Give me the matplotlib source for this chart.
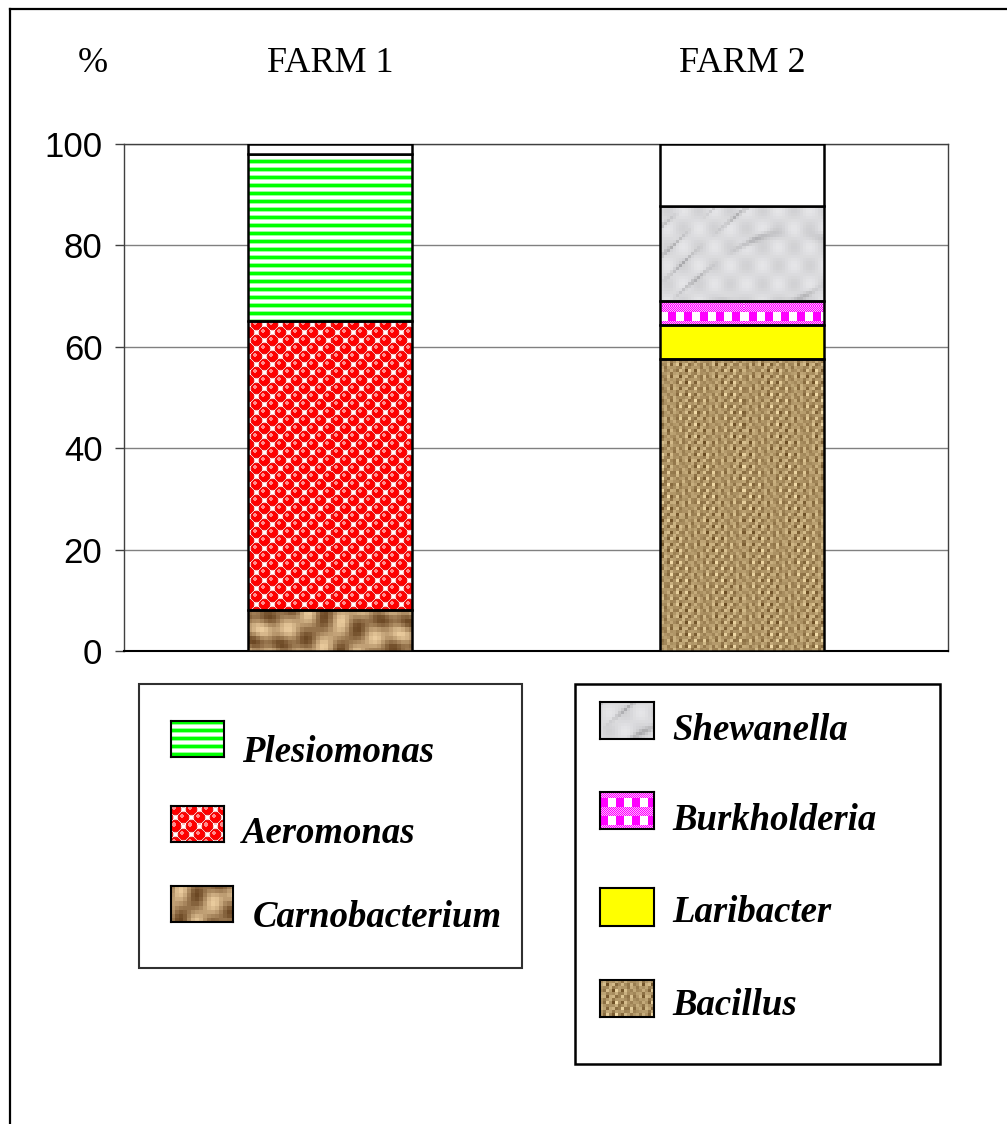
import matplotlib.pyplot as plt
import numpy as np
from matplotlib.patches import Rectangle
from matplotlib.lines import Line2D

# percentage composition of isolated genera, stacked from the bottom up
farms = ["FARM 1", "FARM 2"]
farm1_genera = ["Carnobacterium", "Aeromonas", "Plesiomonas", None]
farm1_pct = [8.1, 57.0, 32.9, 2.0]
farm2_genera = ["Bacillus", "Laribacter", "Burkholderia", "Shewanella", None]
farm2_pct = [57.5, 6.8, 4.8, 18.7, 12.2]
yticks = [0, 20, 40, 60, 80, 100]

W, H = 1007, 1124
SERIF = "Liberation Serif"
SANS = "Liberation Sans"


def fx(x):
    return x / W


def fy(y):
    return 1 - y / H


def texture(name, h, w):
    """RGB fill pattern (h x w pixels) for one genus."""
    yy, xx = np.mgrid[0:h, 0:w].astype(float)
    img = np.ones((h, w, 3))
    if name == "Plesiomonas":
        ph = yy % 8
        img[ph < 3] = (0.0, 1.0, 0.0)
        img[(ph == 3) | (ph == 7)] = (0.6, 1.0, 0.6)
    elif name == "Aeromonas":
        best = np.full((h, w), 99.0)
        dxb = np.zeros((h, w))
        dyb = np.zeros((h, w))
        ci = np.floor(xx / 8)
        cj = np.floor(yy / 8)
        for di in (-1, 0, 1):
            for dj in (-1, 0, 1):
                i = ci + di
                j = cj + dj
                cx = 8 * i + 4
                cy = 8 * j + 4
                d = np.hypot(xx - cx, yy - cy)
                d[(i + j) % 2 != 0] = 99.0
                sel = d < best
                best[sel] = d[sel]
                dxb[sel] = (xx - cx)[sel]
                dyb[sel] = (yy - cy)[sel]
        ball = best < 5.5
        img[ball] = (1.0, 0.0, 0.0)
        img[ball & (best > 4.6)] = (0.9, 0.1, 0.1)
        hl = np.hypot(dxb + 1.5, dyb + 1.5) < 1.6
        img[ball & hl] = (1.0, 0.55, 0.55)
        img[~ball & (best < 6.3)] = (1.0, 0.75, 0.75)
    elif name == "Carnobacterium":
        xb = (xx // 4) * 4
        yb = (yy // 4) * 4
        v = np.sin(0.07 * xb + 0.18 * yb + 2.5 * np.sin(0.04 * xb - 0.03 * yb)) \
            + 0.5 * np.sin(0.23 * xb - 0.10 * yb)
        t = np.clip((v + 1.5) / 3.0, 0, 1)[..., None]
        dark = np.array([0.42, 0.28, 0.14])
        light = np.array([0.92, 0.80, 0.62])
        img = dark + (light - dark) * t
    elif name == "Shewanella":
        xb = (xx // 3) * 3
        yb = (yy // 3) * 3
        v = np.sin(0.05 * xb + 0.08 * yb + 2.0 * np.sin(0.03 * xb + 0.02 * yb))
        vein = np.exp(-(v ** 2) / 0.05) * (0.5 + 0.5 * np.sin(0.07 * xb - 0.05 * yb))
        g = 0.86 + 0.04 * np.sin(0.2 * xb) * np.sin(0.17 * yb) - 0.16 * vein
        img = np.stack([g, g, g + 0.01], axis=-1)
    elif name == "Burkholderia":
        ph = yy % 18
        fine = (xx + yy) % 2 == 0
        band = (ph >= 6) & (ph < 15)
        img[~band & fine] = (1.0, 0.0, 1.0)
        img[~band & ~fine] = (1.0, 0.7, 1.0)
        img[band & ((xx % 16) < 8)] = (1.0, 0.0, 1.0)
    elif name == "Laribacter":
        img[:] = (1.0, 1.0, 0.0)
    elif name == "Bacillus":
        xb = (xx // 3) * 3
        yb = (yy // 3) * 3
        t = 0.55 + 0.28 * np.sin(2 * np.pi * xb / 9) * np.sin(2 * np.pi * yb / 12) \
            + 0.22 * np.sin(0.7 * xb + 0.3 * yb) * np.cos(0.25 * yb - 0.15 * xb)
        t = np.clip(t, 0, 1)[..., None]
        dark = np.array([0.36, 0.24, 0.08])
        light = np.array([0.95, 0.86, 0.66])
        img = dark + (light - dark) * t
    return np.clip(img, 0, 1)


fig = plt.figure(figsize=(W / 100, H / 100), dpi=100)

# plot area
ax_l, ax_r, ax_t, ax_b = 124, 948, 144, 651
ax = fig.add_axes([fx(ax_l), fy(ax_b), fx(ax_r - ax_l), (ax_b - ax_t) / H])
xlim = (-0.5, 1.5)
ylim = (0, 100)

ax.yaxis.grid(True, color="#808080", lw=1.0)
ax.set_axisbelow(True)
for s in ("left", "top", "right"):
    ax.spines[s].set_color("#404040")
    ax.spines[s].set_linewidth(1.0)
ax.spines["bottom"].set_color("black")
ax.spines["bottom"].set_linewidth(1.5)
ax.set_xticks([])
ax.set_yticks(yticks)
ax.set_yticklabels([str(t) for t in yticks], fontsize=25, family=SANS)
ax.tick_params(axis="y", length=6.5, width=1.0, pad=9, color="#404040")

full_h, full_w = ax_b - ax_t, ax_r - ax_l
bar_w = 0.40
for i, (genera, pct) in enumerate([(farm1_genera, farm1_pct), (farm2_genera, farm2_pct)]):
    bottom = 0.0
    for g, v in zip(genera, pct):
        face = "white" if g is None else "none"
        patch = ax.bar(i, v, width=bar_w, bottom=bottom, color=face,
                       edgecolor="black", linewidth=1.8, zorder=3)[0]
        if g is not None:
            im = ax.imshow(texture(g, full_h, full_w), extent=(*xlim, *ylim),
                           origin="upper", aspect="auto", interpolation="nearest", zorder=2.9)
            im.set_clip_path(patch)
        bottom += v

ax.set_xlim(*xlim)
ax.set_ylim(*ylim)

# headings
fig.text(fx(93), fy(72), "%", ha="center", va="baseline", fontsize=26, family=SERIF)
for i, f in enumerate(farms):
    fig.text(fx(330 + 412 * i), fy(72), f, ha="center", va="baseline", fontsize=26, family=SERIF)

# legend boxes
fig.add_artist(Rectangle((fx(139), fy(968)), fx(522 - 139), (968 - 684) / H,
                         transform=fig.transFigure, fill=False, ec="#303030", lw=1.5))
fig.add_artist(Rectangle((fx(575), fy(1064)), fx(940 - 575), (1064 - 684) / H,
                         transform=fig.transFigure, fill=False, ec="black", lw=1.8))

left_entries = [
    ("Plesiomonas", (171, 224, 721, 757), (242, 762)),
    ("Aeromonas", (171, 224, 806, 842), (242, 843)),
    ("Carnobacterium", (171, 233, 886, 922), (253, 927)),
]
right_entries = [
    ("Shewanella", (600, 654, 702, 739), (672, 740)),
    ("Burkholderia", (600, 654, 792, 829), (672, 830)),
    ("Laribacter", (600, 654, 888, 926), (672, 922)),
    ("Bacillus", (600, 654, 980, 1017), (672, 1015)),
]
for name, (x0, x1, y0, y1), (tx, ty) in left_entries + right_entries:
    sw = fig.add_axes([fx(x0), fy(y1), fx(x1 - x0), (y1 - y0) / H])
    sw.imshow(texture(name, y1 - y0, x1 - x0), aspect="auto", interpolation="nearest")
    sw.set_xticks([])
    sw.set_yticks([])
    for s in sw.spines.values():
        s.set_linewidth(1.5)
        s.set_color("black")
    fig.text(fx(tx), fy(ty), name, ha="left", va="baseline", fontsize=26.5,
             family=SERIF, style="italic", weight="bold")

# outer frame (top and left edges)
fig.add_artist(Line2D([fx(10), fx(10)], [0, fy(8.5)], transform=fig.transFigure,
                      color="black", lw=1.6))
fig.add_artist(Line2D([fx(10), 1], [fy(8.5), fy(8.5)], transform=fig.transFigure,
                      color="black", lw=1.6))

fig.savefig("out.png", dpi=100)
